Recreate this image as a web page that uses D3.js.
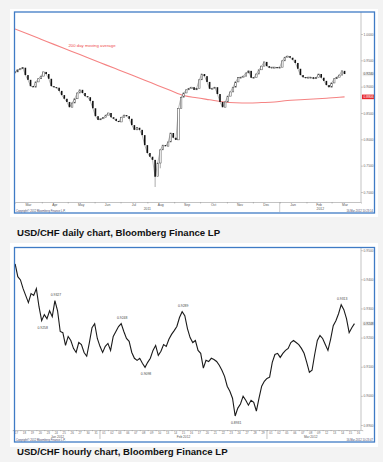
<!DOCTYPE html>
<html>
<head>
<meta charset="utf-8">
<script src="https://cdn.jsdelivr.net/npm/d3@7"></script>
<style>
html, body { margin: 0; padding: 0; background: #f3f3f3; }
svg { display: block; font-family: "Liberation Sans", Arial, sans-serif; }
</style>
</head>
<body>
<svg id="chart" width="383" height="462"></svg>
<script>
// ---- daily chart data (USD/CHF, every 3 days) ----
var dailyDates = ["2011-03-01","2011-03-04","2011-03-07","2011-03-10","2011-03-13","2011-03-16","2011-03-19","2011-03-22","2011-03-25","2011-03-28","2011-03-31",
  "2011-04-03","2011-04-06","2011-04-09","2011-04-12","2011-04-15","2011-04-18","2011-04-21","2011-04-24","2011-04-27","2011-04-30",
  "2011-05-03","2011-05-06","2011-05-09","2011-05-12","2011-05-15","2011-05-18","2011-05-21","2011-05-24","2011-05-27","2011-05-30",
  "2011-06-02","2011-06-05","2011-06-08","2011-06-11","2011-06-14","2011-06-17","2011-06-20","2011-06-23","2011-06-26","2011-06-29",
  "2011-07-02","2011-07-05","2011-07-08","2011-07-11","2011-07-14","2011-07-17","2011-07-20","2011-07-23","2011-07-26","2011-07-29",
  "2011-08-01","2011-08-04","2011-08-07","2011-08-10","2011-08-13","2011-08-16","2011-08-19","2011-08-22","2011-08-25","2011-08-28","2011-08-31",
  "2011-09-03","2011-09-06","2011-09-09","2011-09-12","2011-09-15","2011-09-18","2011-09-21","2011-09-24","2011-09-27","2011-09-30",
  "2011-10-03","2011-10-06","2011-10-09","2011-10-12","2011-10-15","2011-10-18","2011-10-21","2011-10-24","2011-10-27","2011-10-30",
  "2011-11-02","2011-11-05","2011-11-08","2011-11-11","2011-11-14","2011-11-17","2011-11-20","2011-11-23","2011-11-26","2011-11-29",
  "2011-12-02","2011-12-05","2011-12-08","2011-12-11","2011-12-14","2011-12-17","2011-12-20","2011-12-23","2011-12-26","2011-12-29",
  "2012-01-01","2012-01-04","2012-01-07","2012-01-10","2012-01-13","2012-01-16","2012-01-19","2012-01-22","2012-01-25","2012-01-28","2012-01-31",
  "2012-02-03","2012-02-06","2012-02-09","2012-02-12","2012-02-15","2012-02-18","2012-02-21","2012-02-24","2012-02-27",
  "2012-03-01","2012-03-04","2012-03-07","2012-03-10","2012-03-13","2012-03-16"];

var dailyClose = [0.928,0.932,0.934,0.936,0.922,0.913,0.901,0.899,0.909,0.915,0.920,
  0.928,0.924,0.915,0.901,0.899,0.898,0.892,0.884,0.877,0.871,
  0.861,0.869,0.877,0.888,0.894,0.888,0.882,0.880,0.873,0.859,
  0.844,0.837,0.839,0.841,0.846,0.850,0.842,0.839,0.835,0.833,
  0.842,0.846,0.844,0.839,0.827,0.818,0.822,0.818,0.808,0.789,
  0.774,0.767,0.761,0.729,0.755,0.780,0.789,0.787,0.795,0.812,0.803,
  0.799,0.859,0.880,0.888,0.894,0.897,0.899,0.894,0.897,0.913,
  0.924,0.920,0.909,0.896,0.897,0.899,0.886,0.871,0.861,0.871,
  0.882,0.890,0.899,0.909,0.917,0.918,0.920,0.926,0.930,0.917,
  0.917,0.924,0.932,0.939,0.947,0.939,0.936,0.937,0.937,0.936,
  0.937,0.949,0.956,0.958,0.955,0.951,0.945,0.934,0.922,0.918,0.917,
  0.918,0.918,0.915,0.917,0.924,0.917,0.911,0.903,0.899,
  0.907,0.915,0.918,0.922,0.930,0.924];

// long lower shadows that stand out
var dailyWickDates = ["2011-08-10", "2011-08-16"];
var dailyWickLows = [0.7095, 0.745];

var maDates = ["2011-03-01","2011-03-16","2011-03-31","2011-04-15","2011-04-30","2011-05-15","2011-05-30","2011-06-14","2011-06-29",
  "2011-07-14","2011-07-29","2011-08-13","2011-08-28","2011-09-12","2011-09-27","2011-10-12","2011-10-27","2011-11-11","2011-11-26",
  "2011-12-11","2011-12-26","2012-01-10","2012-01-25","2012-02-09","2012-02-24","2012-03-10","2012-03-16"];
var maValues = [1.0095,1.0000,0.9902,0.9803,0.9706,0.9609,0.9510,0.9414,0.9317,0.9220,0.9123,0.9024,0.8927,0.8833,
  0.8789,0.8751,0.8713,0.8694,0.8690,0.8698,0.8709,0.8738,0.8751,0.8766,0.8781,0.8800,0.8806];

var dailyTicks = [0.70, 0.75, 0.80, 0.85, 0.90, 0.95, 1.00];

// ---- hourly chart data (sampled every 8 trading hours) ----
var hourlyDays = ["2012-01-17","2012-01-18","2012-01-19","2012-01-20","2012-01-23","2012-01-24","2012-01-25","2012-01-26","2012-01-27","2012-01-30","2012-01-31",
  "2012-02-01","2012-02-02","2012-02-03","2012-02-06","2012-02-07","2012-02-08","2012-02-09","2012-02-10","2012-02-13","2012-02-14",
  "2012-02-15","2012-02-16","2012-02-17","2012-02-20","2012-02-21","2012-02-22","2012-02-23","2012-02-24","2012-02-27","2012-02-28","2012-02-29",
  "2012-03-01","2012-03-02","2012-03-05","2012-03-06","2012-03-07","2012-03-08","2012-03-09","2012-03-12","2012-03-13","2012-03-14","2012-03-15","2012-03-16"];

var hourlyStep = 1 / 3; // in trading days
var hourlyClose = [0.9453,0.9409,0.9398,0.9368,0.9344,0.9320,0.9351,0.9345,0.9368,0.9306,
  0.9258,0.9279,0.9265,0.9292,0.9272,0.9327,0.9292,0.9221,0.9217,0.9173,
  0.9204,0.9190,0.9163,0.9149,0.9183,0.9176,0.9149,0.9136,0.9183,0.9234,
  0.9248,0.9197,0.9170,0.9149,0.9170,0.9180,0.9156,0.9204,0.9221,0.9238,
  0.9248,0.9221,0.9197,0.9187,0.9149,0.9129,0.9122,0.9129,0.9112,0.9098,
  0.9115,0.9129,0.9156,0.9173,0.9139,0.9153,0.9176,0.9170,0.9194,0.9211,
  0.9224,0.9238,0.9269,0.9289,0.9275,0.9231,0.9200,0.9183,0.9190,0.9156,
  0.9146,0.9095,0.9122,0.9118,0.9129,0.9125,0.9118,0.9105,0.9088,0.9067,
  0.9033,0.9016,0.8992,0.8931,0.8958,0.8972,0.8999,0.8985,0.8968,0.8985,
  0.8978,0.8948,0.8992,0.9033,0.9050,0.9060,0.9064,0.9115,0.9142,0.9146,
  0.9132,0.9146,0.9156,0.9163,0.9183,0.9190,0.9183,0.9176,0.9163,0.9146,
  0.9115,0.9081,0.9088,0.9142,0.9190,0.9207,0.9197,0.9176,0.9156,0.9194,
  0.9241,0.9258,0.9282,0.9313,0.9296,0.9265,0.9217,0.9234,0.9248];

var hourlyTicks = [0.89, 0.90, 0.91, 0.92, 0.93, 0.94, 0.95];

// peak / trough notes: index into hourlyClose, label, side (-1 above, 1 below)
var noteIndex = [15, 10, 40, 49, 63, 83, 123];
var noteText = ["0.9327", "0.9258", "0.9248", "0.9098", "0.9289", "0.8931", "0.9313"];
var noteSide = [-1, 1, -1, 1, -1, 1, -1];

var parse = d3.timeParse("%Y-%m-%d");
var f4 = d3.format(".4f");
var dayFmt = d3.timeFormat("%d");
var monFmt = d3.timeFormat("%b");

var svg = d3.select("#chart");

// white chart backgrounds
svg.append("rect").attr("x", 10).attr("y", 9).attr("width", 368).attr("height", 208).attr("fill", "#fff");
svg.append("rect").attr("x", 10).attr("y", 243).attr("width", 368).attr("height", 204).attr("fill", "#fff");

function tinyText(g, x, y, txt, size, anchor, color) {
    return g.append("text").attr("x", x).attr("y", y).attr("text-anchor", anchor || "start")
        .style("font-size", size + "px").attr("fill", color || "#666").text(txt);
}

function styleAxis(g) {
    g.select(".domain").attr("stroke", "#b4b4b4").attr("stroke-width", 0.8);
    g.selectAll(".tick line").attr("stroke", "#999").attr("stroke-width", 0.6);
    g.selectAll(".tick text").style("font-size", "3.3px").attr("fill", "#666")
        .style("font-family", "'Liberation Sans', Arial, sans-serif");
}

//#region daily chart
var d1 = {left: 15, right: 361, top: 12, bottom: 202};

var xD = d3.scaleTime()
    .domain([parse("2011-03-01"), parse("2012-04-04")])
    .range([d1.left, d1.right]);
var yD = d3.scaleLinear().domain([0.70, 1.00]).range([192, 34]);

var gTop = svg.append("g");

svg.append("clipPath").attr("id", "clipD").append("rect")
    .attr("x", d1.left).attr("y", d1.top).attr("width", d1.right - d1.left).attr("height", d1.bottom - d1.top);

var plotD = gTop.append("g").attr("clip-path", "url(#clipD)");

// 200 day moving average
var maData = maDates.map(function(d, i) { return {date: parse(d), v: maValues[i]}; });
plotD.append("path")
    .datum(maData)
    .attr("d", d3.line().curve(d3.curveMonotoneX)
        .x(function(d) { return xD(d.date); })
        .y(function(d) { return yD(d.v); }))
    .attr("fill", "none")
    .attr("stroke", "#f58383")
    .attr("stroke-width", 1.1);

tinyText(gTop, 92, 47, "200 day moving average", 4.3, "middle", "#ef4a4a");

// candles
var candles = dailyClose.map(function(c, i) {
    return {date: parse(dailyDates[i]), open: i ? dailyClose[i - 1] : c, close: c};
});

// thin shadow line through the closes
plotD.append("path")
    .datum(candles)
    .attr("d", d3.line().x(function(d) { return xD(d.date); }).y(function(d) { return yD(d.close); }))
    .attr("fill", "none").attr("stroke", "#888").attr("stroke-width", 0.6);

dailyWickDates.forEach(function(d, i) {
    var c = candles[dailyDates.indexOf(d)];
    plotD.append("line")
        .attr("x1", xD(c.date)).attr("x2", xD(c.date))
        .attr("y1", yD(Math.min(c.open, c.close))).attr("y2", yD(dailyWickLows[i]))
        .attr("stroke", "#888").attr("stroke-width", 0.7);
});

plotD.selectAll("rect.candle")
    .data(candles)
    .enter().append("rect")
    .attr("class", "candle")
    .attr("x", function(d) { return xD(d.date) - 0.8; })
    .attr("width", 1.6)
    .attr("y", function(d) { return yD(Math.max(d.open, d.close)); })
    .attr("height", function(d) { return Math.max(1, Math.abs(yD(d.open) - yD(d.close))); })
    .attr("fill", function(d) { return d.close < d.open ? "#111" : "#fff"; })
    .attr("stroke", function(d) { return d.close < d.open ? "none" : "#444"; })
    .attr("stroke-width", 0.5);

// right axis
var yAxD = gTop.append("g")
    .attr("transform", "translate(" + d1.right + ",0)")
    .call(d3.axisRight(yD).tickValues(dailyTicks).tickFormat(f4).tickSize(1.8).tickPadding(0.8));
yAxD.select(".domain").remove();
styleAxis(yAxD);
gTop.append("line").attr("x1", d1.right).attr("x2", d1.right).attr("y1", d1.top).attr("y2", d1.bottom)
    .attr("stroke", "#b4b4b4").attr("stroke-width", 0.8);

// last price and MA value boxes
var lastD = dailyClose[dailyClose.length - 1];
gTop.append("rect").attr("x", 362.5).attr("y", yD(lastD) - 2.2).attr("width", 11).attr("height", 4.4).attr("fill", "#eee");
tinyText(gTop, 363.6, yD(lastD) + 1.2, f4(lastD), 3.3, "start", "#444");
var lastMa = maValues[maValues.length - 1];
gTop.append("rect").attr("x", 362).attr("y", yD(lastMa) - 2.3).attr("width", 12).attr("height", 4.6).attr("fill", "#e8262b");
tinyText(gTop, 363.6, yD(lastMa) + 1.2, f4(lastMa), 3.3, "start", "#fff");

// bottom time axis
var months = d3.timeMonth.range(parse("2011-03-01"), parse("2012-04-01"));
var xAxD = gTop.append("g")
    .attr("transform", "translate(0," + d1.bottom + ")")
    .call(d3.axisBottom(xD).tickValues(months.slice(1)).tickFormat("").tickSize(1.5));
styleAxis(xAxD);

months.forEach(function(m) {
    var mid = (xD(m) + xD(d3.timeMonth.offset(m, 1))) / 2;
    tinyText(gTop, mid, 206, monFmt(m), 3.4, "middle", "#555");
});
var yearSplit = xD(parse("2012-01-01"));
gTop.append("line").attr("x1", yearSplit).attr("x2", yearSplit).attr("y1", d1.bottom).attr("y2", 212)
    .attr("stroke", "#aaa").attr("stroke-width", 0.6);
tinyText(gTop, (d1.left + yearSplit) / 2, 210, "2011", 3.4, "middle", "#555");
tinyText(gTop, (yearSplit + d1.right) / 2, 210, "2012", 3.4, "middle", "#555");
tinyText(gTop, 16, 212, "Copyright\u00a9 2012 Bloomberg Finance L.P.", 2.7, "start", "#446");
tinyText(gTop, 373, 212, "16-Mar-2012 10:23:14", 2.7, "end", "#446");

gTop.append("rect").attr("x", 14.5).attr("y", 12).attr("width", 360).attr("height", 201)
    .attr("fill", "none").attr("stroke", "#3f7bc5").attr("stroke-width", 1.3);
//#endregion

//#region hourly chart
var h1 = {left: 15, right: 361, top: 248, bottom: 430};

var xH = d3.scaleLinear().domain([0, hourlyDays.length]).range([12.5, 362.4]);
var yH = d3.scaleLinear().domain([0.89, 0.95]).range([425, 250.2]);

var gBot = svg.append("g");
svg.append("clipPath").attr("id", "clipH").append("rect")
    .attr("x", h1.left).attr("y", h1.top).attr("width", h1.right - h1.left).attr("height", h1.bottom - h1.top);
var plotH = gBot.append("g").attr("clip-path", "url(#clipH)");

var hourly = hourlyClose.map(function(v, i) { return {t: (i + 1) * hourlyStep, v: v}; });

plotH.append("path")
    .datum(hourly)
    .attr("d", d3.line().x(function(d) { return xH(d.t); }).y(function(d) { return yH(d.v); }))
    .attr("fill", "none")
    .attr("stroke", "#1a1a1a")
    .attr("stroke-width", 1.1);

noteIndex.forEach(function(idx, i) {
    var p = hourly[idx];
    tinyText(gBot, xH(p.t) + 1, yH(p.v) + (noteSide[i] < 0 ? -5 : 8), noteText[i], 3.4, "middle", "#444");
});

var yAxH = gBot.append("g")
    .attr("transform", "translate(" + h1.right + ",0)")
    .call(d3.axisRight(yH).tickValues(hourlyTicks).tickFormat(f4).tickSize(1.8).tickPadding(0.8));
yAxH.select(".domain").remove();
styleAxis(yAxH);
gBot.append("line").attr("x1", h1.right).attr("x2", h1.right).attr("y1", h1.top).attr("y2", h1.bottom)
    .attr("stroke", "#b4b4b4").attr("stroke-width", 0.8);

var lastH = hourlyClose[hourlyClose.length - 1];
gBot.append("rect").attr("x", 362.5).attr("y", yH(lastH) - 2.2).attr("width", 11).attr("height", 4.4).attr("fill", "#eee");
tinyText(gBot, 363.6, yH(lastH) + 1.2, f4(lastH), 3.3, "start", "#444");

// day axis
var dayIdx = d3.range(hourlyDays.length);
var xAxH = gBot.append("g")
    .attr("transform", "translate(0," + h1.bottom + ")")
    .call(d3.axisBottom(xH).tickValues(dayIdx.slice(1)).tickFormat("").tickSize(1.2));
styleAxis(xAxH);

hourlyDays.forEach(function(d, i) {
    var cx = xH(i + 0.5);
    if (cx > h1.left && cx < h1.right - 2) tinyText(gBot, cx, 434.3, dayFmt(parse(d)), 2.9, "middle", "#666");
});

var dataEnd = xH(hourly[hourly.length - 1].t);
var monthGroups = d3.groups(dayIdx, function(i) { return hourlyDays[i].slice(0, 7); });
monthGroups.forEach(function(g, gi) {
    var a = Math.max(xH(g[1][0]), h1.left);
    var b = Math.min(xH(g[1][g[1].length - 1] + 1), dataEnd);
    var dt = parse(g[0] + "-01");
    tinyText(gBot, (a + b) / 2, 437.6, monFmt(dt) + " 2012", 3.2, "middle", "#555");
    if (gi > 0) {
        gBot.append("line").attr("x1", xH(g[1][0])).attr("x2", xH(g[1][0])).attr("y1", h1.bottom).attr("y2", 439)
            .attr("stroke", "#999").attr("stroke-width", 0.6);
    }
});

tinyText(gBot, 16, 441, "Copyright\u00a9 2012 Bloomberg Finance L.P.", 2.7, "start", "#446");
tinyText(gBot, 373, 441, "16-Mar-2012 10:23:47", 2.7, "end", "#446");

gBot.append("rect").attr("x", 14.5).attr("y", 247.5).attr("width", 360).attr("height", 194.5)
    .attr("fill", "none").attr("stroke", "#3f7bc5").attr("stroke-width", 1.3);
//#endregion

// captions
svg.append("text").attr("x", 17).attr("y", 235.5)
    .style("font-size", "9.6px").style("font-weight", "bold").attr("fill", "#111")
    .text("USD/CHF daily chart, Bloomberg Finance LP");
svg.append("text").attr("x", 17).attr("y", 455)
    .style("font-size", "9.6px").style("font-weight", "bold").attr("fill", "#111")
    .text("USD/CHF hourly chart, Bloomberg Finance LP");
</script>
</body>
</html>
